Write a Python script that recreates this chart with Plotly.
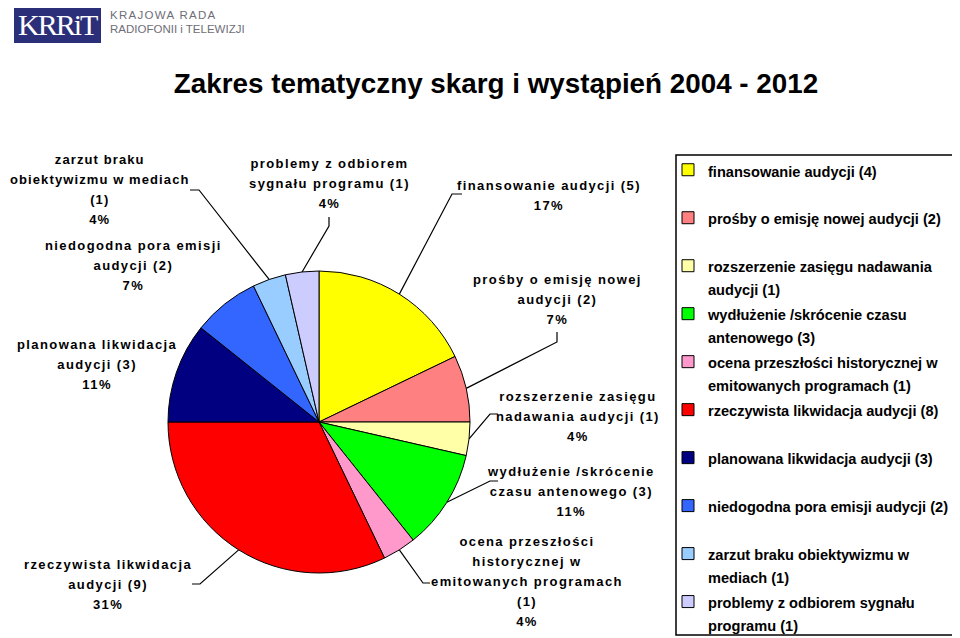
import math
import plotly.graph_objects as go

# ---------------- data ----------------
slice_names = [
    "finansowanie audycji (5)",
    "prośby o emisję nowej<br>audycji (2)",
    "rozszerzenie zasięgu<br>nadawania audycji (1)",
    "wydłużenie /skrócenie<br>czasu antenowego (3)",
    "ocena przeszłości<br>historycznej w<br>emitowanych programach<br>(1)",
    "rzeczywista likwidacja<br>audycji (9)",
    "planowana likwidacja<br>audycji (3)",
    "niedogodna pora emisji<br>audycji (2)",
    "zarzut braku<br>obiektywizmu w mediach<br>(1)",
    "problemy z odbiorem<br>sygnału programu (1)",
]
legend_names = [
    "finansowanie audycji (4)",
    "prośby o emisję nowej audycji (2)",
    "rozszerzenie zasięgu nadawania<br>audycji (1)",
    "wydłużenie /skrócenie czasu<br>antenowego (3)",
    "ocena przeszłości historycznej w<br>emitowanych programach (1)",
    "rzeczywista likwidacja audycji (8)",
    "planowana likwidacja audycji (3)",
    "niedogodna pora emisji audycji (2)",
    "zarzut braku obiektywizmu w<br>mediach (1)",
    "problemy z odbiorem sygnału<br>programu (1)",
]
counts = [5, 2, 1, 3, 1, 9, 3, 2, 1, 1]
pct_labels = ["17%", "7%", "4%", "11%", "4%", "31%", "11%", "7%", "4%", "4%"]
colors = ["#FFFF00", "#FF8080", "#FFFFA8", "#00FF00", "#FF99CC",
          "#FF0000", "#000080", "#3366FF", "#99CCFF", "#CCCCFF"]

# ---------------- layout helpers (screen pixels -> paper) ----------------
OFF = 8                 # page body margin
W, H = 960 - OFF, 638 - OFF
def px(x):
    return (x - OFF) / W
def py(y):
    return 1 - (y - OFF) / H

CX, CY, R = 319, 422, 151  # pie centre / radius in screen px

# label placement: (centre x, top y, leader anchor, leader elbow, letter spacing)
label_pos = [
    (549, 177, (462, 194), (452, 194), 1.4),
    (557, 271, (557, 332), (557, 342), 1.4),
    (578, 388, (498, 414), (490, 414), 1.4),
    (571, 463, (498, 481), (490, 481), 1.4),
    (527, 533, (430, 583), (423, 583), 1.4),
    (108, 556, (192, 584), (200, 584), 1.4),
    (97, 336, None, None, 1.4),
    (133, 237, None, None, 1.4),
    (100, 151, (190, 190), (199, 190), 1.1),
    (329, 155, (329, 217), (329, 226), 1.4),
]


def legend_label(name):
    parts = name.split("<br>")
    first = f"<span style='font-size:14.6px'><b>{parts[0]}</b></span>"
    second = (f"<span style='font-size:14.6px'><b>{parts[1]}</b></span>"
              if len(parts) > 1 else " ")
    return first + "<br>" + second


fig = go.Figure()
fig.add_trace(go.Pie(
    labels=[legend_label(n) for n in legend_names],
    values=counts,
    sort=False,
    direction="clockwise",
    rotation=0,
    marker=dict(colors=colors, line=dict(color="black", width=1)),
    textinfo="none",
    hoverinfo="label+value",
    domain=dict(x=[px(CX - R), px(CX + R)], y=[py(CY + R), py(CY - R)]),
    showlegend=True,
))

annotations = []
shapes = []
total = sum(counts)
cum = 0
for i, (name, v) in enumerate(zip(slice_names, counts)):
    mid = (cum + v / 2) / total * 2 * math.pi
    cum += v
    cxl, ty, anchor, elbow, ls = label_pos[i]
    txt = "<br>".join(
        f"<span style='font-size:13px;letter-spacing:{ls}px'><b>{line}</b></span>"
        for line in (name + "<br>" + pct_labels[i]).split("<br>")
    )
    annotations.append(dict(
        x=px(cxl), y=py(ty), xref="paper", yref="paper",
        xanchor="center", yanchor="top", showarrow=False, align="center",
        text=txt, borderpad=0,
        font=dict(family="Liberation Sans, Arial", size=15.4, color="black"),
    ))
    if anchor is not None:
        ex = CX + R * math.sin(mid)
        ey = CY - R * math.cos(mid)
        path = (f"M {px(anchor[0])},{py(anchor[1])} L {px(elbow[0])},{py(elbow[1])} "
                f"L {px(ex)},{py(ey)}")
        shapes.append(dict(type="path", xref="paper", yref="paper", path=path,
                           line=dict(color="black", width=1.2)))

# legend frame
shapes.append(dict(type="rect", xref="paper", yref="paper",
                   x0=px(676), x1=px(957), y0=py(635), y1=py(155),
                   line=dict(color="black", width=1.5), fillcolor="rgba(0,0,0,0)"))

# logo
shapes.append(dict(type="rect", xref="paper", yref="paper",
                   x0=px(14), x1=px(101), y0=py(43), y1=py(2),
                   line=dict(width=0), fillcolor="#2B2E78", layer="below"))
annotations.append(dict(x=px(58), y=py(24), xref="paper", yref="paper",
                        xanchor="center", yanchor="middle", showarrow=False,
                        text="<span style='letter-spacing:-2px'>KRRiT</span>",
                        font=dict(family="Liberation Serif", size=30, color="white")))
annotations.append(dict(x=px(108), y=py(15), xref="paper", yref="paper",
                        xanchor="left", yanchor="middle", showarrow=False,
                        text="<span style='letter-spacing:1.3px'>KRAJOWA RADA</span>",
                        font=dict(family="Liberation Sans, Arial", size=11.5, color="#6E6E78")))
annotations.append(dict(x=px(108), y=py(29), xref="paper", yref="paper",
                        xanchor="left", yanchor="middle", showarrow=False,
                        text="RADIOFONII i TELEWIZJI",
                        font=dict(family="Liberation Sans, Arial", size=11.5, color="#6E6E78")))

fig.update_layout(
    width=W, height=H, autosize=False,
    margin=dict(l=0, r=0, t=0, b=0, autoexpand=False),
    paper_bgcolor="white", plot_bgcolor="white",
    title=dict(text="<b>Zakres tematyczny skarg i wystąpień 2004 - 2012</b>",
               x=px(496), y=py(83), xanchor="center", yanchor="middle",
               font=dict(family="Liberation Sans, Arial", size=27.8, color="black")),
    legend=dict(
        x=px(668), y=py(152), xanchor="left", yanchor="top",
        bgcolor="rgba(0,0,0,0)", borderwidth=0, valign="top",
        font=dict(family="Liberation Sans, Arial", size=17.3, color="black"),
        itemwidth=30, traceorder="normal",
    ),
    annotations=annotations,
    shapes=shapes,
)

fig.write_html("out.html")
